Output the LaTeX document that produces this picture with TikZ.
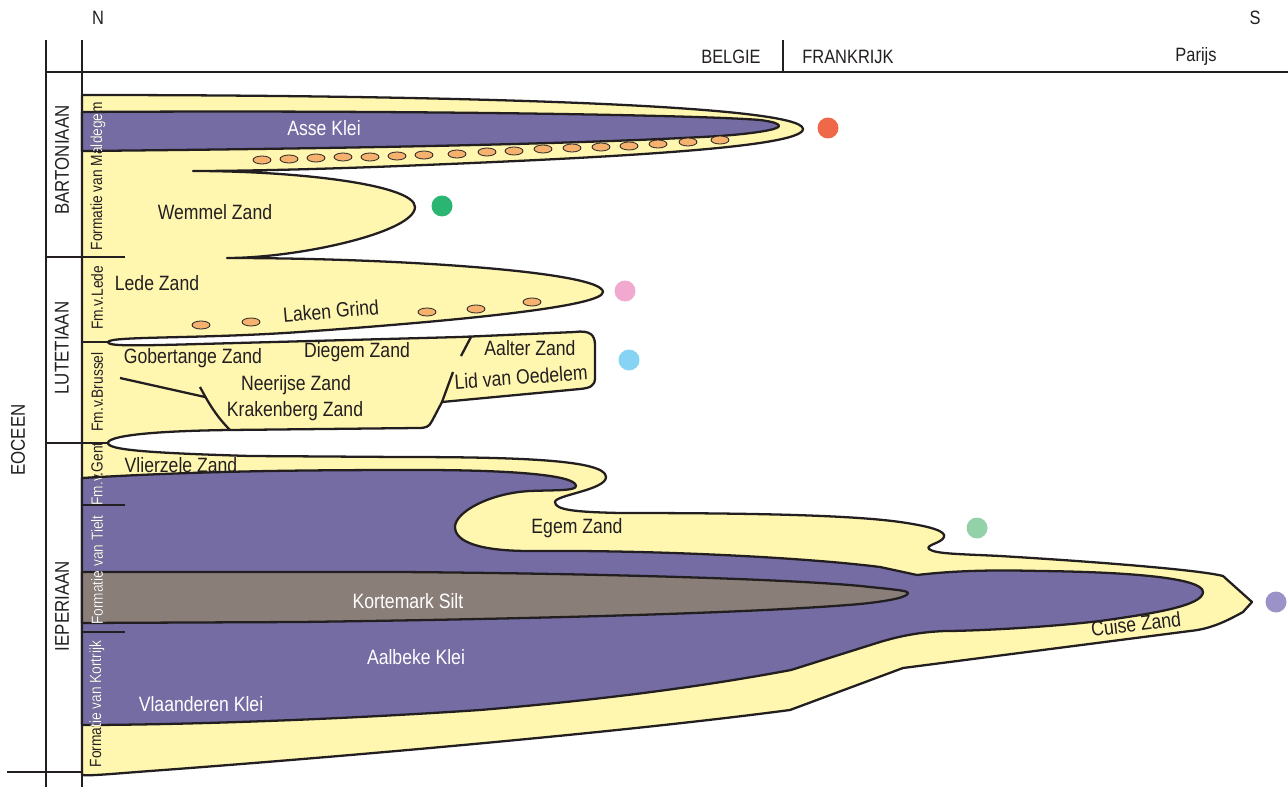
\documentclass[tikz,border=0pt]{standalone}
\usepackage{fontspec}
\setmainfont{Liberation Sans}[FakeStretch=0.85]
\usepackage{tikz}

\definecolor{zand}{RGB}{255,246,176}
\definecolor{klei}{RGB}{116,108,163}
\definecolor{silt}{RGB}{138,126,121}
\definecolor{grind}{RGB}{245,178,110}
\definecolor{ink}{RGB}{35,31,32}
\definecolor{puntrood}{RGB}{240,104,74}
\definecolor{puntgroen}{RGB}{43,181,115}
\definecolor{puntroze}{RGB}{242,169,207}
\definecolor{puntblauw}{RGB}{134,211,243}
\definecolor{puntmint}{RGB}{147,209,168}
\definecolor{puntlila}{RGB}{155,146,200}

\tikzset{
	bedline/.style={draw=ink, line width=1.3pt, line join=round},
	frame/.style={draw=ink, line width=1.1pt},
	lbl/.style={font=\fontsize{11.8}{13}\selectfont, text=ink, inner sep=0pt},
	wlbl/.style={lbl, text=white},
	fmlbl/.style={font=\fontsize{9.2}{10}\selectfont, rotate=90, inner sep=0pt},
	stlbl/.style={font=\fontsize{11.3}{12}\selectfont, text=ink, rotate=90, inner sep=0pt},
	kop/.style={font=\fontsize{11}{12}\selectfont, text=ink, inner sep=0pt},
	pebble/.style={fill=grind, draw=ink, line width=0.45pt}
}

% formatie-namen langs de linkerkolom
\newcommand{\formaties}[1]{%
	\node[fmlbl, text=#1] (fmmaldegem) at (98,176) {Formatie van Maldegem};
	\node[fmlbl, text=#1] (fmlede) at (97,298) {Fm.v.Lede};
	\node[fmlbl, text=#1] (fmbrussel) at (97,392) {Fm.v.Brussel};
	\node[fmlbl, text=#1] (fmgent) at (97,474) {Fm.v.Gent};
	\node[fmlbl, text=#1] (fmtielt) at (97,570) {Formatie van Tielt};
	\node[fmlbl, text=#1] (fmkortrijk) at (97,704) {Formatie van Kortrijk};
}

\begin{document}
\begin{tikzpicture}[x=0.02cm, y=-0.02cm]
	\useasboundingbox (0,0) rectangle (1288,787);
	
	% zandpakket, van Maldegem tot Kortrijk
	\draw[bedline, fill=zand]
	(82,95) .. controls (450,95) and (803,105) .. (803,129)
	.. controls (803,148) and (600,158) .. (400,166)
	.. controls (300,170) and (230,171) .. (193,171)
	.. controls (300,171) and (415,185) .. (415,207)
	.. controls (415,232) and (300,258) .. (227,258)
	.. controls (400,258) and (603,272) .. (603,292)
	.. controls (603,306) and (470,320) .. (300,332)
	.. controls (200,339) and (110,336) .. (108,342)
	.. controls (107,346) and (130,346) .. (200,344)
	-- (460,337) -- (575,332)
	.. controls (590,330) and (595,335) .. (595,345)
	-- (595,378)
	.. controls (595,386) and (590,388) .. (580,389)
	-- (442,402) -- (432,421)
	.. controls (429,427) and (426,428) .. (418,428)
	-- (230,430)
	.. controls (150,431) and (108,436) .. (108,443)
	.. controls (108,450) and (150,453) .. (250,456)
	-- (400,457)
	.. controls (520,457) and (606,460) .. (606,477)
	.. controls (606,490) and (555,495) .. (555,502)
	.. controls (555,510) and (575,512) .. (620,513)
	.. controls (750,513) and (850,515) .. (900,522)
	.. controls (935,527) and (946,532) .. (944,537)
	.. controls (942,543) and (925,545) .. (929,549)
	.. controls (935,554) and (960,554) .. (1000,556)
	.. controls (1100,562) and (1200,570) .. (1223,576)
	-- (1252,602) -- (1243,612)
	.. controls (1225,622) and (1210,629) .. (1190,631)
	-- (903,668) -- (790,710)
	.. controls (600,735) and (300,760) .. (150,771)
	.. controls (110,774) and (90,776) .. (82,775)
	-- cycle;
	
	% Asse Klei
	\draw[bedline, fill=klei]
	(82,112) .. controls (400,110) and (700,115) .. (760,120)
	.. controls (775,122) and (779,124) .. (779,126)
	.. controls (779,129) and (760,133) .. (720,136)
	.. controls (600,143) and (400,148) .. (82,151) -- cycle;
	
	% klei van Tielt en Kortrijk
	\draw[bedline, fill=klei]
	(82,478) .. controls (200,471) and (300,470) .. (420,470)
	.. controls (500,470) and (576,474) .. (576,486)
	.. controls (576,491) and (555,490) .. (530,491)
	.. controls (490,493) and (455,512) .. (455,527)
	.. controls (455,542) and (480,551) .. (530,551)
	.. controls (650,550) and (800,557) .. (880,567)
	-- (917,575)
	.. controls (960,570) and (1000,570) .. (1040,571)
	.. controls (1130,572) and (1203,578) .. (1203,592)
	.. controls (1203,606) and (1150,614) .. (1100,621)
	.. controls (1040,628) and (970,631) .. (945,631)
	.. controls (920,632) and (900,636) .. (880,642)
	-- (791,670)
	.. controls (700,687) and (600,700) .. (480,710)
	.. controls (300,722) and (150,725) .. (82,725) -- cycle;
	
	% Kortemark Silt
	\draw[bedline, fill=silt]
	(82,572) -- (400,572)
	.. controls (650,574) and (820,581) .. (870,587)
	.. controls (900,590) and (908,591) .. (908,593)
	.. controls (908,597) and (890,601) .. (860,604)
	.. controls (780,611) and (600,618) .. (300,622)
	-- (82,623) -- cycle;
	
	% grenzen binnen Brussel
	\draw[bedline] (120,378) -- (205,397);
	\draw[bedline] (200,387) .. controls (207,400) and (215,415) .. (230,430);
	\draw[bedline] (471,337) -- (461,356);
	\draw[bedline] (453,372) -- (442,402);
	
	% grindlagen
	\foreach \x/\y in {262/160,289/159,316/158,343/157,370/157,397/156,424/155,457/154,487/152,514/151,543/149,572/148,601/147,629/146,658/144,688/142,720/140}
	\draw[pebble] (\x,\y) ellipse (9 and 4);
	\foreach \x/\y in {201/325,251/322,427/312,476/309,532/302}
	\draw[pebble] (\x,\y) ellipse (9 and 4);
	
	% stippen
	\fill[puntrood] (828,128) circle (10.5);
	\fill[puntgroen] (442,206) circle (10.5);
	\fill[puntroze] (625,291) circle (10.5);
	\fill[puntblauw] (629,360) circle (10.5);
	\fill[puntmint] (977,528) circle (10.5);
	\fill[puntlila] (1276,602) circle (10.5);
	
	% lagen
	\node[wlbl] (asse) at (324,128) {Asse Klei};
	\node[lbl] (wemmel) at (215,212) {Wemmel Zand};
	\node[lbl] (lede) at (157,283) {Lede Zand};
	\node[lbl, rotate=5] (laken) at (331,311) {Laken Grind};
	\node[lbl] (gobertange) at (193,358) {Gobertange Zand};
	\node[lbl] (diegem) at (357,352) {Diegem Zand};
	\node[lbl] (aalter) at (530,348) {Aalter Zand};
	\node[lbl] (neerijse) at (296,385) {Neerijse Zand};
	\node[lbl, rotate=4] (oedelem) at (521,377) {Lid van Oedelem};
	\node[lbl] (krakenberg) at (295,411) {Krakenberg Zand};
	\node[lbl] (vlierzele) at (181,465) {Vlierzele Zand};
	\node[lbl] (egem) at (577,528) {Egem Zand};
	\node[wlbl] (kortemark) at (408,601) {Kortemark Silt};
	\node[wlbl] (aalbeke) at (416,657) {Aalbeke Klei};
	\node[wlbl] (vlaanderen) at (201,704) {Vlaanderen Klei};
	\node[lbl, rotate=7] (cuise) at (1136,624) {Cuise Zand};
	
	\formaties{ink}
	\begin{scope}
		\clip (82,112) rectangle (116,151) (82,478) rectangle (116,725);
		\formaties{white}
	\end{scope}
	
	% kader
	\draw[frame] (46,40) -- (46,787);
	\draw[frame] (82,40) -- (82,787);
	\draw[frame] (46,72) -- (1288,72);
	\draw[frame] (783,40) -- (783,72);
	\draw[frame] (7,772) -- (82,772);
	\draw[frame] (46,257) -- (125,257);
	\draw[frame] (46,443) -- (108,443);
	\draw[frame] (82,342) -- (108,342);
	\draw[frame] (82,505) -- (125,505);
	\draw[frame] (82,632) -- (125,632);
	
	\node[stlbl] (bartoon) at (62,160) {BARTONIAAN};
	\node[stlbl] (lutetiaan) at (62,348) {LUTETIAAN};
	\node[stlbl] (ieper) at (62,606) {IEPERIAAN};
	\node[stlbl] (eoceen) at (18,440) {EOCEEN};
	
	\node[kop] (noord) at (98,18) {N};
	\node[kop] (zuid) at (1255,18) {S};
	\node[kop] (belgie) at (731,57) {BELGIE};
	\node[kop] (frankrijk) at (848,57) {FRANKRIJK};
	\node[kop] (parijs) at (1196,57) {Parijs};
\end{tikzpicture}
\end{document}
